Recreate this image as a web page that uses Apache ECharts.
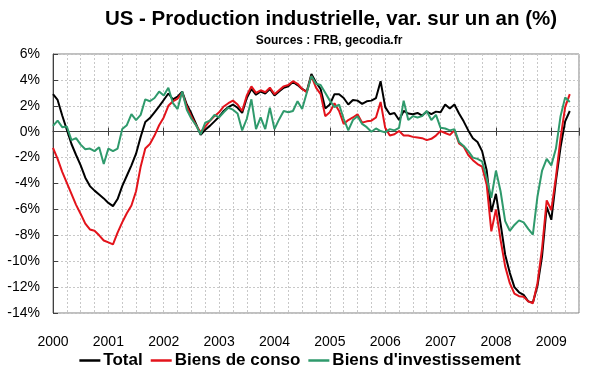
<!DOCTYPE html>
<html><head><meta charset="utf-8">
<script src="https://cdn.jsdelivr.net/npm/echarts@6/dist/echarts.min.js"></script>
<style>html,body{margin:0;padding:0;background:#fff}#c{width:600px;height:372px}</style>
</head><body><div id="c"></div>
<script>
const titleText = 'US - Production industrielle, var. sur un an (%)';
const subText = 'Sources : FRB, gecodia.fr';
const yearLabels = ['2000','2001','2002','2003','2004','2005','2006','2007','2008','2009'];
const seriesNames = ['Total', 'Biens de conso', "Biens d'investissement"];
// monthly values, Jan 2000 -> May 2009
const total = [2.9,2.45,1.25,0.15,-0.95,-1.8,-2.6,-3.55,-4.2,-4.55,-4.85,-5.15,-5.5,-5.75,
 -5.2,-4.2,-3.4,-2.6,-1.7,-0.4,0.75,1.05,1.5,1.95,2.45,2.95,2.5,2.7,3.1,2.1,1.4,0.6,-0.25,
 0.15,0.45,0.8,1.15,1.6,1.9,2.1,1.85,1.45,2.6,3.3,2.85,3.1,2.95,3.3,2.8,3.1,3.4,3.5,3.85,3.6,
 3.3,3.1,4.45,3.8,3.3,1.8,2.1,2.9,2.9,2.6,2.1,2.45,2.4,2.15,2.35,2.4,2.6,3.9,1.9,1.35,1.45,
 0.9,1.6,1.4,1.35,1.45,1.25,1.55,1.35,1.55,1.5,2.1,1.8,2.1,1.4,0.8,0.1,-0.5,-0.8,-1.5,-3.0,
 -6.2,-4.8,-7.1,-9.5,-10.9,-12.0,-12.4,-12.6,-13.1,-13.2,-11.9,-9.6,-5.8,-6.8,-3.8,-1.2,0.8,1.6];
const conso = [-1.25,-2.1,-3.1,-3.95,-4.8,-5.65,-6.35,-7.1,-7.55,-7.65,-8.0,-8.4,-8.55,-8.7,
 -7.8,-7.0,-6.3,-5.7,-4.6,-2.7,-1.3,-0.95,-0.3,0.5,1.1,2.0,2.35,2.55,3.0,1.95,1.15,0.5,-0.05,
 0.4,0.85,1.2,1.5,1.95,2.2,2.4,2.1,1.6,2.8,3.5,3.0,3.2,3.05,3.4,2.9,3.2,3.5,3.6,3.9,3.7,
 3.3,3.05,4.3,3.4,2.9,1.2,1.5,2.2,1.6,0.6,0.9,1.1,1.35,0.7,0.8,0.85,1.1,2.3,0.3,-0.3,-0.2,
 0.05,-0.3,-0.3,-0.4,-0.45,-0.5,-0.65,-0.55,-0.3,0.05,-0.1,-0.25,0.1,-0.9,-1.15,-1.8,-2.2,-2.5,-2.7,-4.1,
 -7.7,-6.0,-8.35,-10.4,-11.7,-12.5,-12.7,-12.75,-13.1,-13.25,-11.7,-9.0,-5.3,-6.05,-3.5,-0.5,1.9,2.9];
const invest = [0.45,0.85,0.35,0.4,-0.65,-0.5,-1.0,-1.35,-1.3,-1.5,-1.2,-2.5,-1.3,-1.5,
 -1.3,0.2,0.5,1.35,0.9,1.3,2.5,2.35,2.6,3.1,2.8,3.4,2.2,1.75,3.1,1.7,1.0,0.5,-0.2,
 0.7,0.85,1.3,1.1,1.5,1.85,1.7,1.4,0.1,1.0,2.5,0.2,1.1,0.2,1.85,0.2,0.95,1.6,1.5,1.6,2.35,
 1.75,3.0,4.3,3.7,3.6,3.0,2.4,1.9,2.1,1.0,0.1,0.9,1.2,0.6,0.35,0.0,0.25,0.05,-0.05,0.2,0.1,
 0.3,2.4,0.9,1.2,1.1,1.2,1.6,0.9,1.3,0.3,0.25,0.1,0.2,-0.8,-1.1,-1.5,-2.0,-2.1,-2.3,-3.6,
 -5.1,-3.0,-4.6,-6.9,-7.65,-7.2,-6.85,-7.0,-7.5,-7.95,-5.0,-3.0,-2.1,-2.6,-1.3,1.2,2.65,2.3];
const colors = ['#000000', '#e3131b', '#2f9a6c'];

const toPts = arr => arr.map((v, i) => [i, v]);
const FONT = '"Liberation Sans", Arial, sans-serif';
const chart = echarts.init(document.getElementById('c'), null, {renderer: 'canvas'});
const xBase = {type: 'value', min: 0, max: 114, gridIndex: 0};
chart.setOption({
  animation: false,
  backgroundColor: '#ffffff',
  title: [
    {text: titleText, left: 326, top: 4, textAlign: 'center',
     textStyle: {fontFamily: FONT, fontWeight: 'bold', fontSize: 20.5, color: '#000'}},
    {text: subText, left: 324, top: 30, textAlign: 'center',
     textStyle: {fontFamily: FONT, fontWeight: 'bold', fontSize: 12, color: '#000'}}
  ],
  legend: {
    data: seriesNames, left: 'center', top: 347, icon: 'rect', itemWidth: 21, itemHeight: 2.5,
    itemGap: 8, textStyle: {fontFamily: FONT, fontWeight: 'bold', fontSize: 17, color: '#000', padding: [0,0,0,-2]}
  },
  grid: {left: 53, right: 21, top: 54, bottom: 59, show: true, borderColor: '#808080', borderWidth: 1, backgroundColor: 'transparent'},
  xAxis: [
    Object.assign({}, xBase, {
      position: 'bottom', interval: 12,
      axisLine: {show: false, onZero: false}, axisTick: {show: false}, splitLine: {show: false},
      axisLabel: {show: true, margin: 22, fontFamily: FONT, fontSize: 14, color: '#000',
        formatter: v => (v % 12 === 0 && yearLabels[v / 12] !== undefined) ? yearLabels[v / 12] : ''}
    }),
    Object.assign({}, xBase, {
      interval: 3, axisLine: {show: false, onZero: false}, axisTick: {show: false}, axisLabel: {show: false},
      splitLine: {show: true, lineStyle: {color: '#c8c8c8', type: [2, 2], width: 1}}
    }),
    Object.assign({}, xBase, {
      interval: 12,
      axisLine: {show: true, onZero: true, onZeroAxisIndex: 0, lineStyle: {color: '#404040', width: 1}},
      axisTick: {show: true, inside: false, length: 4, lineStyle: {color: '#404040'}},
      axisLabel: {show: false}, splitLine: {show: false}
    }),
    Object.assign({}, xBase, {
      interval: 12,
      axisLine: {show: false, onZero: true, onZeroAxisIndex: 0},
      axisTick: {show: true, inside: true, length: 4, lineStyle: {color: '#404040'}},
      axisLabel: {show: false}, splitLine: {show: false}
    })
  ],
  yAxis: {
    type: 'value', min: -14, max: 6, interval: 2,
    axisLine: {show: true, onZero: false, lineStyle: {color: '#404040'}},
    axisTick: {show: true, inside: true, length: 5, lineStyle: {color: '#404040'}},
    axisLabel: {margin: 13, fontFamily: FONT, fontSize: 14, color: '#000', formatter: '{value}%'},
    splitLine: {show: true, lineStyle: {color: '#c8c8c8', type: [2, 2], width: 1}}
  },
  series: [total, conso, invest].map((arr, i) => ({
    name: seriesNames[i], type: 'line', xAxisIndex: 0, yAxisIndex: 0,
    data: toPts(arr), showSymbol: false, symbol: 'none',
    lineStyle: {color: colors[i], width: 2}, itemStyle: {color: colors[i]}
  }))
});
</script></body></html>
